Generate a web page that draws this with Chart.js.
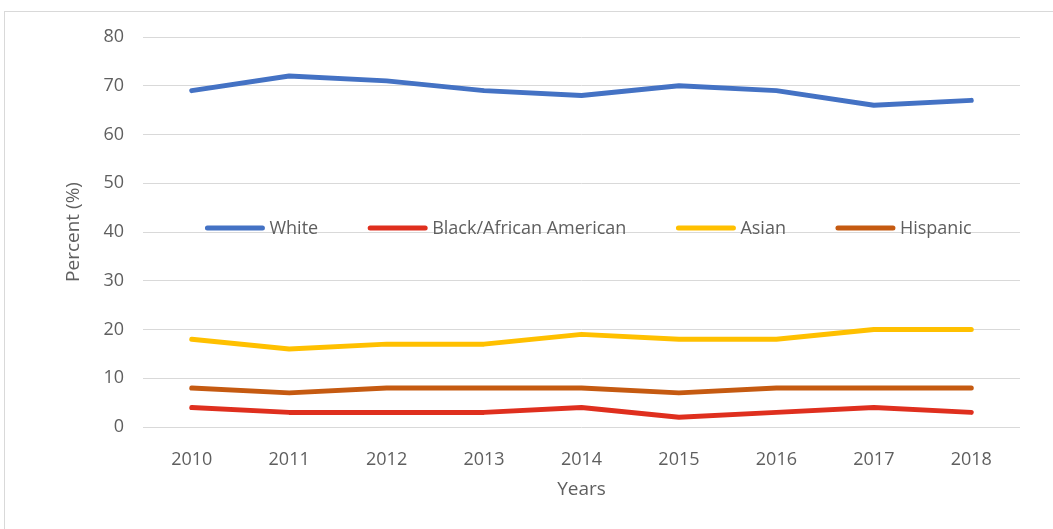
<!DOCTYPE html>
<html>
<head>
<meta charset="utf-8">
<script src="https://cdn.jsdelivr.net/npm/chart.js@4/dist/chart.umd.min.js"></script>
<style>
  html, body { margin: 0; padding: 0; background: #fff; overflow: hidden; }
  .frame { position: absolute; left: 4px; top: 11px; width: 1100px; height: 600px;
           border-left: 1px solid #d9d9d9; border-top: 1px solid #d9d9d9; }
  #wrap { position: absolute; left: 0; top: 0; width: 1053px; height: 529px; }
</style>
</head>
<body>
<div class="frame"></div>
<div id="wrap"><canvas id="c" width="1053" height="529"></canvas></div>
<script>
/* 데이터 */
const years = ['2010','2011','2012','2013','2014','2015','2016','2017','2018'];
const white    = [69, 72, 71, 69, 68, 70, 69, 66, 67];
const black    = [4, 3, 3, 3, 4, 2, 3, 4, 3];
const asian    = [18, 16, 17, 17, 19, 18, 18, 20, 20];
const hispanic = [8, 7, 8, 8, 8, 7, 8, 8, 8];

const FONT = '"Open Sans", "Noto Sans", sans-serif';
const TXT = '#5f5f5f';

function series(label, data, color) {
  return {
    label, data,
    borderColor: color, backgroundColor: color,
    borderWidth: 5, pointRadius: 0, tension: 0,
    borderCapStyle: 'round', borderJoinStyle: 'round',
  };
}

/* 플롯 안쪽 가운데에 그리는 범례 */
const midLegend = {
  id: 'midLegend',
  afterDatasetsDraw(chart) {
    const ctx = chart.ctx, area = chart.chartArea;
    const y = chart.scales.y.getPixelForValue(40) - 4;
    ctx.save();
    ctx.font = '18px ' + FONT;
    const lineW = 55, gap1 = 7, gap2 = 52;
    const sets = chart.data.datasets;
    let total = 0;
    sets.forEach((d, i) => {
      total += lineW + gap1 + ctx.measureText(d.label).width + (i < sets.length - 1 ? gap2 : 0);
    });
    let x = (area.left + area.right) / 2 - total / 2 + 8;
    sets.forEach(d => {
      ctx.strokeStyle = d.borderColor;
      ctx.lineWidth = 5;
      ctx.lineCap = 'round';
      ctx.beginPath();
      ctx.moveTo(x, y); ctx.lineTo(x + lineW, y);
      ctx.stroke();
      x += lineW + gap1;
      ctx.fillStyle = TXT;
      ctx.textBaseline = 'middle';
      ctx.fillText(d.label, x, y + 1);
      x += ctx.measureText(d.label).width + gap2;
    });
    ctx.restore();
  }
};

new Chart(document.getElementById('c'), {
  type: 'line',
  data: {
    labels: years,
    datasets: [
      series('White', white, '#4472C4'),
      series('Black/African American', black, '#DF2F1E'),
      series('Asian', asian, '#FFC000'),
      series('Hispanic', hispanic, '#C55A11'),
    ]
  },
  options: {
    responsive: false,
    animation: false,
    layout: { padding: { left: 58, right: 33, top: 37, bottom: 24 } },
    plugins: { legend: { display: false }, tooltip: { enabled: false } },
    scales: {
      x: {
        offset: true,
        grid: { display: false },
        border: { display: false },
        ticks: { color: TXT, font: { family: FONT, size: 18 }, padding: 14, maxRotation: 0 },
        title: { display: true, text: 'Years', color: TXT, font: { family: FONT, size: 19 }, padding: { top: 2 } },
        afterFit(s) { s.height = 78; },
      },
      y: {
        min: 0, max: 80,
        ticks: { stepSize: 10, color: TXT, font: { family: FONT, size: 18 }, padding: 19 },
        grid: { color: '#d9d9d9', lineWidth: 1, drawTicks: false },
        border: { display: false },
        title: { display: true, text: 'Percent (%)', color: TXT, font: { family: FONT, size: 19 } },
        afterFit(s) { s.width = 85; },
      },
    },
  },
  plugins: [midLegend],
});
</script>
</body>
</html>
